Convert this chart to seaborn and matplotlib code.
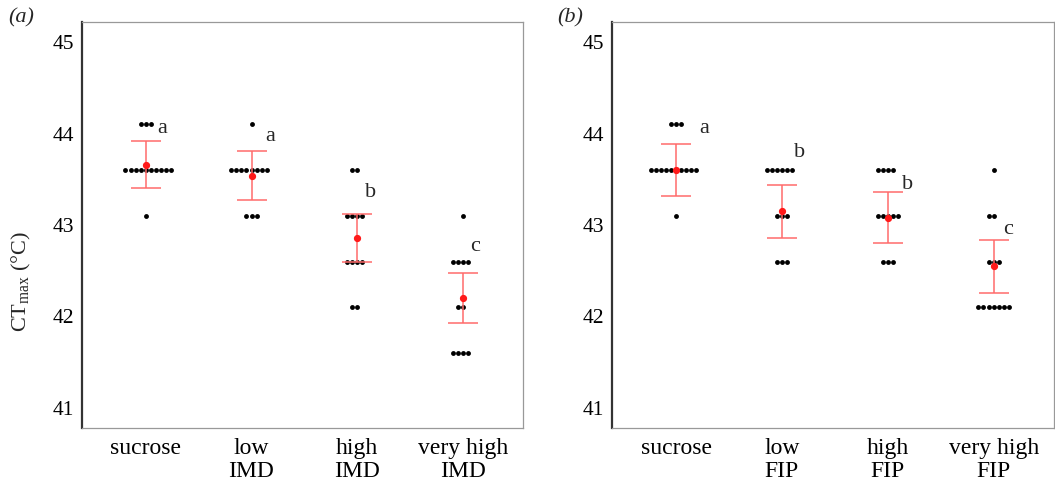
import pandas as pd
import numpy as np
import matplotlib
matplotlib.use("Agg")
import matplotlib.pyplot as plt
import seaborn as sns

# ---- data ----
groups_a = ["sucrose", "low\nIMD", "high\nIMD", "very high\nIMD"]
groups_b = ["sucrose", "low\nFIP", "high\nFIP", "very high\nFIP"]

imd_sucrose = [44.1, 44.1, 44.1, 43.6, 43.6, 43.6, 43.6, 43.6, 43.6, 43.6, 43.6, 43.6, 43.6, 43.1]
imd_low = [44.1, 43.6, 43.6, 43.6, 43.6, 43.6, 43.6, 43.6, 43.6, 43.1, 43.1, 43.1]
imd_high = [43.6, 43.6, 43.1, 43.1, 43.1, 43.1, 42.6, 42.6, 42.6, 42.6, 42.1, 42.1]
imd_vhigh = [43.1, 42.6, 42.6, 42.6, 42.6, 42.1, 42.1, 41.6, 41.6, 41.6, 41.6]

fip_sucrose = [44.1, 44.1, 44.1, 43.6, 43.6, 43.6, 43.6, 43.6, 43.6, 43.6, 43.6, 43.6, 43.6, 43.1]
fip_low = [43.6, 43.6, 43.6, 43.6, 43.6, 43.6, 43.1, 43.1, 43.1, 42.6, 42.6, 42.6]
fip_high = [43.6, 43.6, 43.6, 43.6, 43.1, 43.1, 43.1, 43.1, 43.1, 42.6, 42.6, 42.6]
fip_vhigh = [43.6, 43.1, 43.1, 42.6, 42.6, 42.6, 42.1, 42.1, 42.1, 42.1, 42.1, 42.1, 42.1]

# model estimates (red) and their interval half widths
means_a = [43.66, 43.54, 42.86, 42.20]
ci_a = [0.26, 0.265, 0.265, 0.275]
means_b = [43.60, 43.15, 43.08, 42.55]
ci_b = [0.285, 0.29, 0.28, 0.29]

letters_a = ["a", "a", "b", "c"]
letters_b = ["a", "b", "b", "c"]
letter_y_a = [44.06, 43.97, 43.35, 42.76]
letter_y_b = [44.06, 43.79, 43.44, 42.95]
letter_dx_a = [0.15, 0.18, 0.13, 0.12]
letter_dx_b = [0.27, 0.17, 0.19, 0.14]


def long_df(groups, vals):
    rows = []
    for g, v in zip(groups, vals):
        for x in v:
            rows.append((g, x))
    return pd.DataFrame(rows, columns=["group", "ctmax"])


df_a = long_df(groups_a, [imd_sucrose, imd_low, imd_high, imd_vhigh])
df_b = long_df(groups_b, [fip_sucrose, fip_low, fip_high, fip_vhigh])

sns.set_style("white")
plt.rcParams["font.family"] = ["Liberation Serif", "DejaVu Serif"]
plt.rcParams["mathtext.fontset"] = "custom"
plt.rcParams["mathtext.rm"] = "Liberation Serif"
plt.rcParams["mathtext.it"] = "Liberation Serif:italic"

fig = plt.figure(figsize=(10.55, 4.86), dpi=100)
W, H = 1055, 486
ax_a = fig.add_axes([82 / W, 1 - 428 / H, (523 - 82) / W, (428 - 22) / H])
ax_b = fig.add_axes([612 / W, 1 - 428 / H, (1054 - 612) / W, (428 - 22) / H])

panels = [
    (ax_a, df_a, groups_a, means_a, ci_a, letters_a, letter_y_a, letter_dx_a, "(a)", 8),
    (ax_b, df_b, groups_b, means_b, ci_b, letters_b, letter_y_b, letter_dx_b, "(b)", 557),
]

for ax, df, groups, means, ci, letters, ly, ldx, tag, tagx in panels:
    sns.swarmplot(data=df, x="group", y="ctmax", order=groups, color="black",
                  size=3.5, ax=ax, zorder=2)
    xs = np.arange(len(groups))
    ax.errorbar(xs, means, yerr=ci, fmt="none", ecolor="#ff6b6b", elinewidth=1.1,
                capsize=10.5, capthick=1.1, zorder=3)
    ax.plot(xs, means, "o", color="#ff1a1a", markersize=4.2, zorder=4)
    for i in range(len(groups)):
        ax.text(xs[i] + ldx[i], ly[i], letters[i], fontsize=16, ha="center",
                va="center")
    ax.set_xlim(-0.605, 3.57)
    ax.set_ylim(40.78, 45.22)
    ax.set_yticks([41, 42, 43, 44, 45])
    ax.set_xlabel("")
    ax.set_ylabel("")
    ax.tick_params(axis="both", direction="out", length=4, width=1,
                   color="#333333", labelcolor="black")
    ax.tick_params(axis="y", labelsize=15.5, pad=2)
    ax.tick_params(axis="x", labelsize=17, pad=3)
    for lab in ax.get_xticklabels():
        lab.set_linespacing(1.12)
    for side in ["top", "right", "bottom"]:
        ax.spines[side].set_color("#999999")
        ax.spines[side].set_linewidth(0.9)
    ax.spines["left"].set_color("#333333")
    ax.spines["left"].set_linewidth(1.6)
    fig.text(tagx / W, 1 - 18 / H, tag, fontsize=16, style="italic",
             ha="left", va="center")

ax_a.set_ylabel("CT$_{\\mathrm{max}}$ (°C)", fontsize=16)
ax_a.yaxis.set_label_coords(-0.11, 0.36)

fig.savefig("out.png", dpi=100)
